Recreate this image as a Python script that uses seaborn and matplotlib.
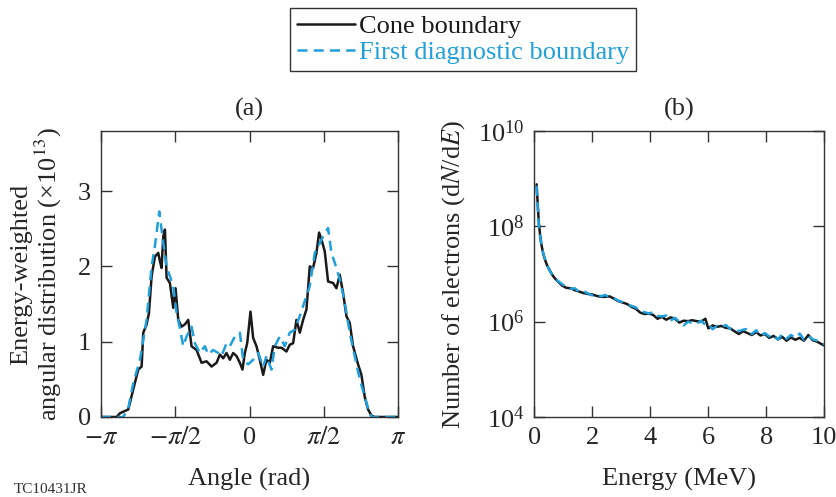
import numpy as np
import pandas as pd
import matplotlib
matplotlib.use("Agg")
import matplotlib.pyplot as plt
import seaborn as sns
from matplotlib.lines import Line2D

# ---------------- data ----------------
# Panel (a): energy-weighted angular distribution (x1e13)
cone_angle = [-3.142, -2.811, -2.740, -2.564, -2.458, -2.353, -2.282, -2.247, -2.177, -2.127,
              -2.071, -2.001, -1.930, -1.895, -1.860, -1.824, -1.789, -1.754, -1.684, -1.613,
              -1.564, -1.507, -1.437, -1.367, -1.296, -1.226, -1.120, -1.014, -0.909, -0.803,
              -0.697, -0.627, -0.556, -0.486, -0.416, -0.345, -0.275, -0.204, -0.148, -0.099,
              -0.049, 0.021, 0.077, 0.148, 0.218, 0.289, 0.359, 0.430, 0.500, 0.606,
              0.676, 0.782, 0.852, 0.923, 0.993, 1.064, 1.134, 1.205, 1.275, 1.345,
              1.416, 1.472, 1.522, 1.592, 1.662, 1.768, 1.839, 1.909, 1.979, 2.050,
              2.120, 2.191, 2.296, 2.367, 2.437, 2.508, 2.579, 2.649, 3.142]
cone_dist = [0.0, 0.0, 0.05, 0.10, 0.37, 0.63, 0.67, 1.12, 1.23, 1.38,
             1.87, 2.13, 2.18, 2.07, 1.98, 2.40, 2.49, 1.85, 1.78, 1.45,
             1.71, 1.29, 1.20, 1.23, 1.29, 0.94, 0.89, 0.72, 0.74, 0.67,
             0.72, 0.83, 0.78, 0.85, 0.76, 0.85, 0.81, 0.72, 0.63, 0.85,
             0.98, 1.40, 1.05, 0.94, 0.76, 0.56, 0.76, 0.72, 0.94, 0.92,
             0.92, 0.87, 0.96, 0.98, 1.29, 1.12, 1.29, 1.43, 2.00, 1.98,
             2.18, 2.45, 2.36, 2.20, 1.80, 1.78, 1.71, 1.89, 1.65, 1.34,
             1.25, 0.94, 0.70, 0.56, 0.27, 0.10, 0.02, 0.0, 0.0]

diag_angle = [-3.142, -2.670, -2.564, -2.458, -2.318, -2.177, -2.071, -2.001, -1.909, -1.824,
              -1.754, -1.684, -1.613, -1.543, -1.472, -1.402, -1.331, -1.226, -1.155, -1.050,
              -0.944, -0.873, -0.768, -0.662, -0.592, -0.486, -0.416, -0.310, -0.204, -0.134,
              -0.028, 0.077, 0.183, 0.289, 0.359, 0.465, 0.535, 0.641, 0.747, 0.852,
              0.958, 1.064, 1.169, 1.275, 1.381, 1.472, 1.557, 1.662, 1.733, 1.803,
              1.909, 2.015, 2.120, 2.226, 2.332, 2.437, 2.543, 2.613, 3.142]
diag_dist = [0.0, 0.0, 0.12, 0.45, 0.76, 1.29, 2.00, 2.27, 2.73, 2.31,
             2.00, 1.87, 1.74, 1.38, 1.18, 0.94, 1.07, 1.20, 0.98, 0.85,
             0.94, 0.83, 0.89, 0.85, 0.81, 0.98, 0.94, 1.07, 1.12, 0.76,
             0.70, 0.76, 0.85, 0.67, 0.81, 0.63, 0.94, 1.07, 0.94, 1.12,
             1.16, 1.34, 1.54, 1.74, 2.18, 2.29, 2.40, 2.51, 2.18, 2.05,
             1.83, 1.52, 1.12, 0.81, 0.50, 0.27, 0.03, 0.0, 0.0]

# Panel (b): electron spectrum, stored as log10(dN/dE)
energy = [0.08, 0.12, 0.16, 0.2, 0.25, 0.31, 0.38, 0.45, 0.53, 0.62, 0.72, 0.82, 0.95, 1.1,
          1.25, 1.4, 1.55, 1.7, 1.85, 2.0, 2.15, 2.3, 2.45, 2.6, 2.75, 2.9, 3.05, 3.2, 3.35,
          3.5, 3.65, 3.8, 3.95, 4.1, 4.25, 4.4, 4.55, 4.7, 4.85, 5.0, 5.15, 5.3, 5.45, 5.6,
          5.75, 5.9, 6.0, 6.15, 6.3, 6.45, 6.6, 6.75, 6.9, 7.05, 7.2, 7.35, 7.5, 7.65, 7.8,
          7.95, 8.1, 8.25, 8.4, 8.55, 8.7, 8.85, 9.0, 9.15, 9.3, 9.45, 9.6, 9.75, 9.9, 10.0]
cone_log_dnde = [8.88, 8.45, 8.05, 7.82, 7.60, 7.42, 7.28, 7.17, 7.08, 6.98, 6.90, 6.84, 6.76, 6.71,
                 6.70, 6.66, 6.63, 6.60, 6.58, 6.57, 6.54, 6.52, 6.52, 6.53, 6.48, 6.43, 6.40, 6.37, 6.31,
                 6.27, 6.19, 6.16, 6.17, 6.14, 6.06, 6.10, 6.04, 6.09, 6.06, 5.98, 6.02, 6.01, 6.03, 6.01,
                 6.00, 6.06, 5.86, 5.92, 5.89, 5.91, 5.87, 5.86, 5.80, 5.74, 5.80, 5.76, 5.72, 5.78, 5.71,
                 5.74, 5.66, 5.70, 5.63, 5.68, 5.60, 5.67, 5.62, 5.66, 5.60, 5.72, 5.61, 5.58, 5.53, 5.50]
diag_log_dnde = [8.85, 8.40, 8.00, 7.78, 7.58, 7.43, 7.30, 7.18, 7.07, 6.99, 6.92, 6.85, 6.79, 6.73,
                 6.69, 6.70, 6.62, 6.64, 6.59, 6.55, 6.58, 6.53, 6.56, 6.50, 6.49, 6.44, 6.41, 6.36, 6.33,
                 6.30, 6.21, 6.20, 6.17, 6.20, 6.12, 6.11, 6.13, 6.02, 6.08, 6.00, 5.92, 6.00, 5.97, 5.95,
                 6.02, 5.93, 5.95, 5.84, 5.91, 5.88, 5.93, 5.85, 5.84, 5.80, 5.83, 5.85, 5.74, 5.82, 5.70,
                 5.76, 5.69, 5.73, 5.62, 5.74, 5.64, 5.72, 5.66, 5.75, 5.62, 5.70, 5.63, 5.60, 5.56, 5.52]

angle_ticks = [-np.pi, -np.pi / 2, 0, np.pi / 2, np.pi]
angle_ticklabels = [r"$-\pi$", r"$-\pi/2$", "0", r"$\pi/2$", r"$\pi$"]
series_names = ["Cone boundary", "First diagnostic boundary"]

# ---------------- style ----------------
sns.set_style("ticks")
plt.rcParams["font.family"] = ["Liberation Serif", "DejaVu Serif"]
plt.rcParams["mathtext.fontset"] = "stix"
plt.rcParams["font.size"] = 19
plt.rcParams["axes.linewidth"] = 1.0
plt.rcParams["axes.edgecolor"] = "#333333"

FS = 19
BLACK = "#1a1a1a"
BLUE = "#1f9fdc"
palette = {series_names[0]: BLACK, series_names[1]: BLUE}

fig = plt.figure(figsize=(8.36, 4.97), dpi=100)
ax1 = fig.add_axes([0.1208, 0.1610, 0.3553, 0.5755])
ax2 = fig.add_axes([0.6391, 0.1610, 0.3469, 0.5755])

df_a = pd.concat([
    pd.DataFrame({"angle": cone_angle, "dist": cone_dist, "series": series_names[0]}),
    pd.DataFrame({"angle": diag_angle, "dist": diag_dist, "series": series_names[1]}),
])
df_b = pd.concat([
    pd.DataFrame({"E": energy, "N": 10.0 ** np.array(cone_log_dnde), "series": series_names[0]}),
    pd.DataFrame({"E": energy, "N": 10.0 ** np.array(diag_log_dnde), "series": series_names[1]}),
])

for ax, df, x, y in [(ax1, df_a, "angle", "dist"), (ax2, df_b, "E", "N")]:
    sns.lineplot(data=df, x=x, y=y, hue="series", style="series", palette=palette,
                 dashes={series_names[0]: "", series_names[1]: (4, 2.5)},
                 linewidth=1.8, sort=False, estimator=None, ax=ax, legend=False)

# Panel (a)
ax1.set_xlim(-np.pi, np.pi)
ax1.set_ylim(0, 3.8)
ax1.set_xticks(angle_ticks)
ax1.set_xticklabels(angle_ticklabels)
ax1.set_yticks([0, 1, 2, 3])
ax1.set_xlabel("Angle (rad)", labelpad=14, fontsize=FS)
ax1.set_ylabel("Energy-weighted\nangular distribution (×10$^{13}$)", labelpad=10,
               linespacing=1.05, fontsize=FS)
ax1.set_title("(a)", pad=11, fontsize=FS)

# Panel (b)
ax2.set_yscale("log")
ax2.set_xlim(0, 10)
ax2.set_ylim(1e4, 1e10)
ax2.set_xticks([0, 2, 4, 6, 8, 10])
ax2.set_yticks([1e4, 1e6, 1e8, 1e10])
ax2.yaxis.set_minor_locator(matplotlib.ticker.NullLocator())
ax2.set_xlabel("Energy (MeV)", labelpad=14, fontsize=FS)
ax2.set_ylabel("Number of electrons (d$N$/d$E$)", labelpad=8, fontsize=FS)
ax2.set_title("(b)", pad=11, fontsize=FS)

for ax in (ax1, ax2):
    ax.tick_params(axis="both", which="major", direction="in", length=8, width=1.0,
                   top=True, right=True, labelsize=FS, pad=7, color="#333333")
    for s in ax.spines.values():
        s.set_visible(True)

# legend
handles = [Line2D([], [], color=BLACK, lw=1.8),
           Line2D([], [], color=BLUE, lw=1.8, ls=(0, (4, 2.5)))]
leg = fig.legend(handles, series_names, loc="upper center", bbox_to_anchor=(0.554, 0.995),
                 fancybox=False, framealpha=1, edgecolor="#333333", fontsize=FS,
                 handlelength=2.2, handletextpad=0.15, borderpad=0.25, labelspacing=0.1,
                 borderaxespad=0.2, labelcolor=[BLACK, BLUE])
leg.get_frame().set_linewidth(1.0)

fig.text(0.017, 0.028, "TC10431JR", fontsize=11, va="top", ha="left", color="#333333")

fig.savefig("out.png", dpi=100)
